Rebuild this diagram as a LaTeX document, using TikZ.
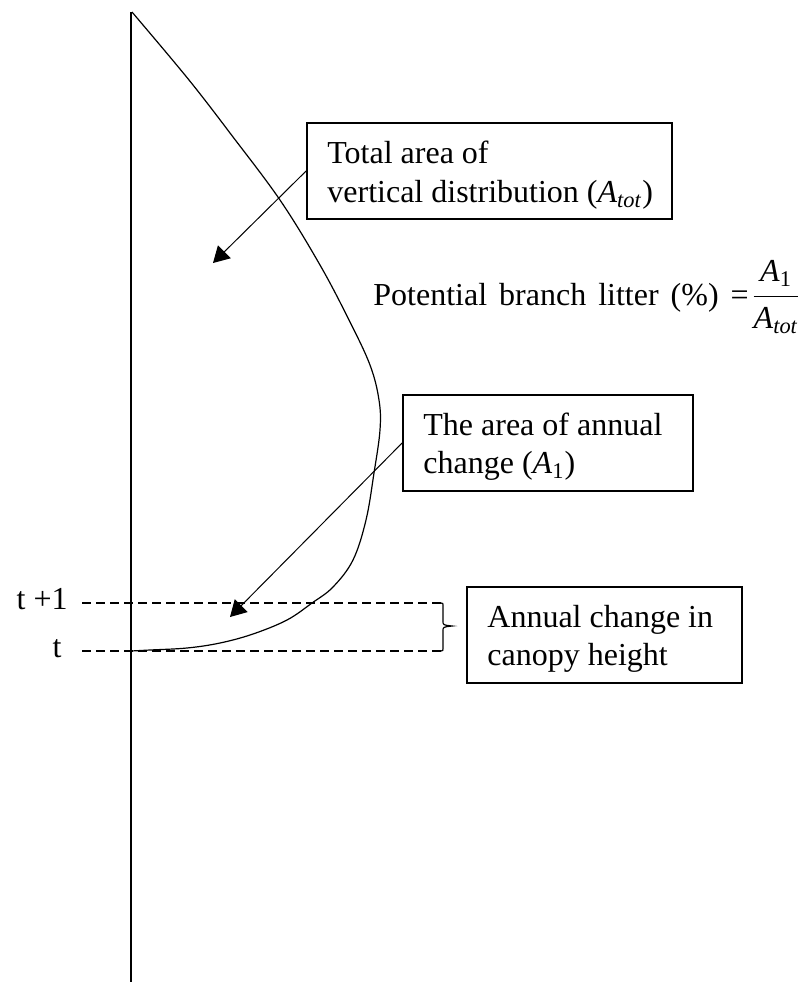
\documentclass[tikz,border=0pt]{standalone}
\usepackage{fontspec}
\setmainfont{Liberation Serif}
\usetikzlibrary{arrows.meta}
\newcommand\Atot{\textit{A}\textsubscript{\textit{tot}}}
\newcommand\Aone{\textit{A}\textsubscript{1}}
\begin{document}
\begin{tikzpicture}[x=0.5pt,y=-0.5pt,
  txt/.style={anchor=base west,inner sep=0pt,font=\fontsize{16}{19}\selectfont},
  lbl/.style={anchor=base east,inner sep=0pt,font=\fontsize{16}{19}\selectfont},
  box/.style={draw,line width=0.9pt,inner sep=0pt,minimum height=48pt},
  arr/.style={line width=0.5pt,-{Triangle[length=8pt,width=9pt]}},
  dsh/.style={line width=0.8pt,dash pattern=on 4.5pt off 2.5pt},
  curve/.style={line width=0.6pt}]
\useasboundingbox (0,0) rectangle (810,982);
% axis
\coordinate (axtop) at (131,12);
\coordinate (axbot) at (131,982);
\draw[line width=1pt] (axtop) -- (axbot);
% distribution curve
\draw[curve] plot[smooth,tension=0.6] coordinates {(132,12) (170,57) (197,90) (230,133) (280,200) (320,265) (349,320) (370,365) (379,400) (380,430) (374,473) (366,520) (353,560) (333,587) (312,603) (287,620) (253,634) (220,643) (187,648) (150,650) (131,651)};
% dashed levels
\coordinate (d1a) at (82,603); \coordinate (d1b) at (441,603);
\coordinate (d0a) at (82,651); \coordinate (d0b) at (441,651);
\draw[dsh] (d1a) -- (d1b);
\draw[dsh] (d0a) -- (d0b);
\node[lbl] (tp1) at (68,609) {t +1};
\node[lbl] (t0) at (62,657) {t};
% brace
\draw[line width=0.6pt] (d1b) .. controls (443,603) .. (443,607) -- (443,621) .. controls (443,625) .. (452,626)
  .. controls (443,627) .. (443,631) -- (443,646) .. controls (443,651) .. (d0b);
% boxes
\node[box,minimum width=182.5pt] (b1) at (489.5,171) {};
\node[txt] (b1l1) at (327,163) {Total area of};
\node[txt] (b1l2) at (327,202) {vertical distribution (\Atot)};
\node[box,minimum width=145pt] (b2) at (548,443) {};
\node[txt] (b2l1) at (423,435) {The area of annual};
\node[txt] (b2l2) at (423,473) {change (\Aone)};
\node[box,minimum width=137.5pt] (b3) at (604.5,635) {};
\node[txt] (b3l1) at (487,627) {Annual change in};
\node[txt] (b3l2) at (487,665) {canopy height};
% formula
\node[txt] (form) at (373,305) {\nulldelimiterspace=0pt Potential\hspace{6pt}branch\hspace{6pt}litter\hspace{6pt}(\%)\hspace{6pt}=\hspace{2.5pt}${\displaystyle\frac{\mbox{\Aone}}{\mbox{\Atot}}}$};
% arrows
\coordinate (tip1) at (213,263);
\coordinate (tip2) at (230,617);
\draw[arr] (b1.west) -- (tip1);
\draw[arr] (b2.west) -- (tip2);
\end{tikzpicture}
\end{document}
